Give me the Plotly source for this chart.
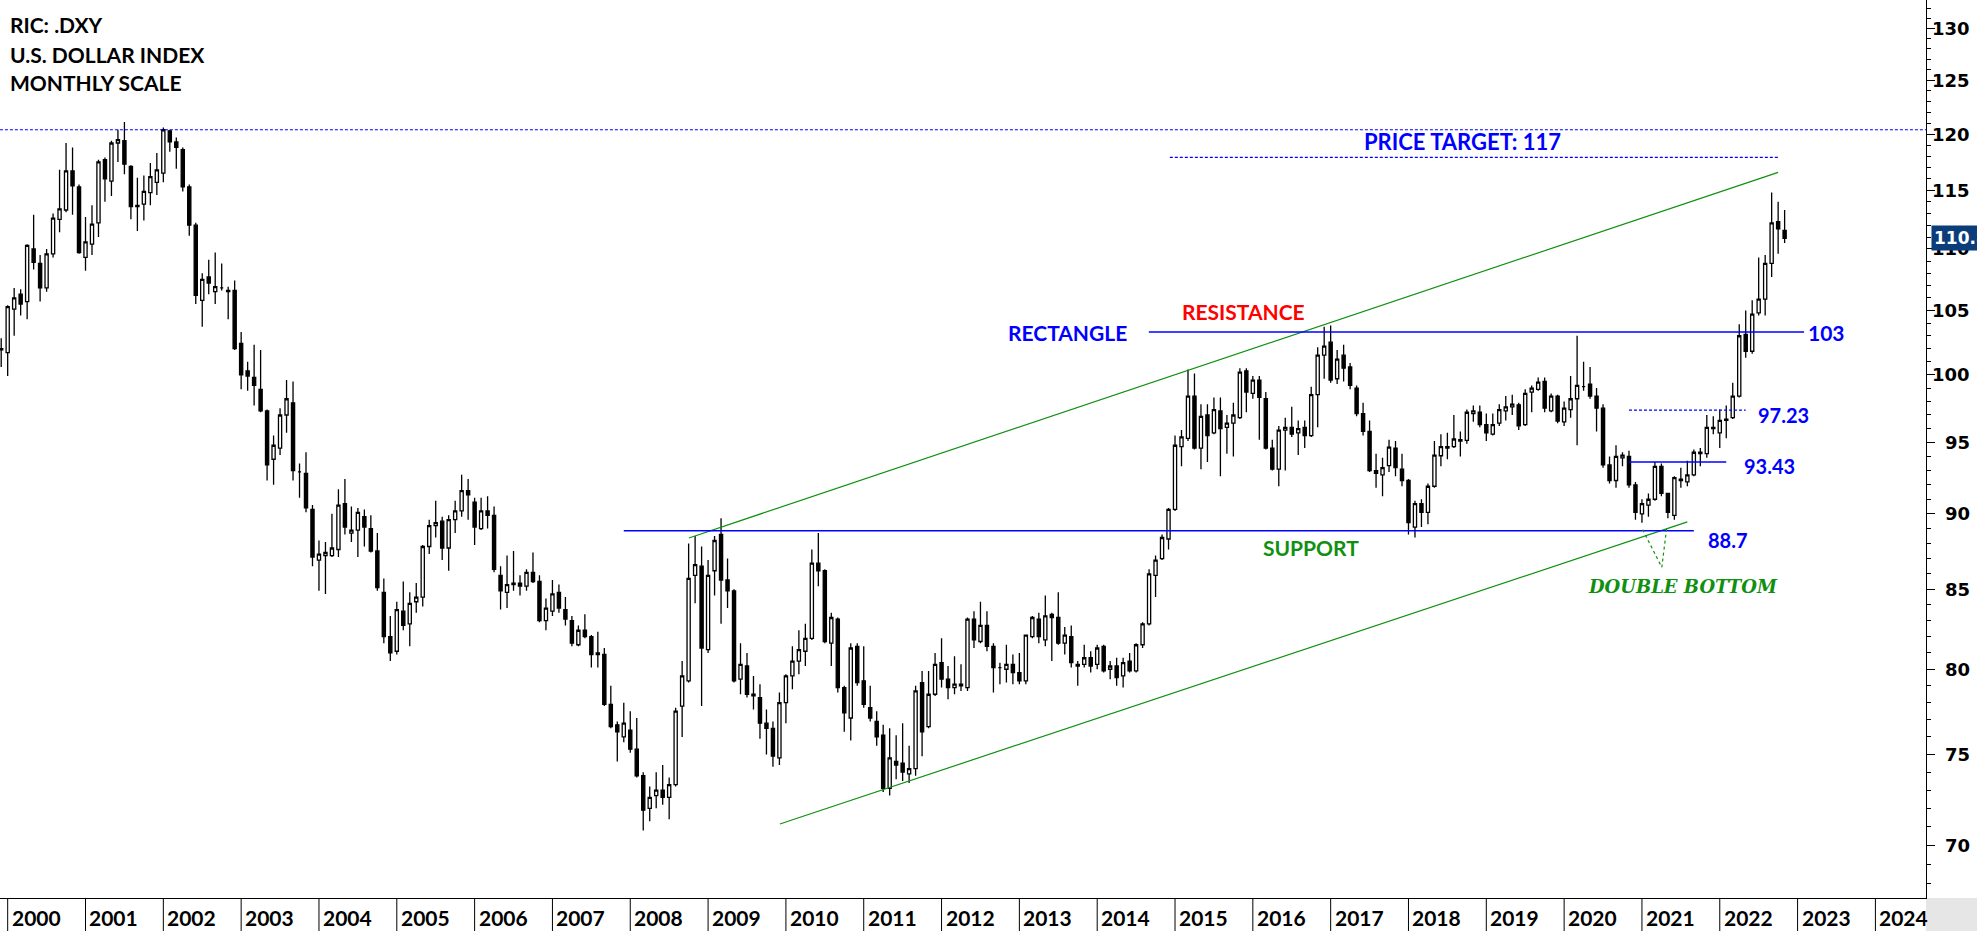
import math
import pandas as pd
import plotly.graph_objects as go

# ------------------------------------------------------------------
# DATA  (monthly candles, Dec 1999 .. Nov 2022)
# ------------------------------------------------------------------
open_ = [
    101.9,
    101.7, 105.1, 106.3, 105.7, 110.0, 108.8, 106.8, 109.6, 112.5, 113.3, 116.7, 115.3,   # 2000
    109.3, 110.4, 112.2, 117.7, 115.8, 119.2, 119.4, 117.1, 113.6, 113.8, 114.8, 115.7,   # 2001
    116.5, 120.3, 119.3, 118.6, 115.3, 112.0, 105.8, 107.7, 106.5, 106.8, 106.6, 106.6,   # 2002
    102.4, 100.3, 99.8, 98.9, 97.3, 93.8, 94.6, 97.0, 97.9, 92.9, 92.8, 90.3,             # 2003
    86.9, 87.2, 87.2, 87.6, 90.7, 88.7, 88.9, 89.8, 89.0, 87.5, 84.8, 82.0,               # 2004
    81.1, 83.6, 82.8, 84.2, 84.5, 87.8, 89.2, 89.5, 87.7, 89.6, 90.2, 91.6,               # 2005
    90.8, 89.0, 90.2, 89.9, 85.9, 84.8, 85.3, 85.4, 85.2, 86.1, 85.5, 83.0,               # 2006
    83.6, 84.8, 83.7, 83.0, 81.5, 82.4, 82.0, 80.9, 80.9, 77.9, 76.7, 76.0,               # 2007
    76.4, 75.3, 73.8, 72.0, 72.7, 73.0, 72.6, 73.3, 77.8, 79.3, 85.9, 86.5,               # 2008
    81.2, 86.2, 88.6, 85.6, 84.9, 79.4, 80.2, 78.5, 78.3, 76.8, 76.5, 74.8,               # 2009
    78.0, 79.6, 80.5, 81.1, 81.9, 86.7, 86.2, 81.6, 83.1, 78.9, 77.1, 81.4,               # 2010
    79.3, 77.7, 76.9, 76.1, 73.1, 74.6, 74.5, 73.9, 74.2, 79.2, 76.6, 78.5,               # 2011
    80.4, 79.4, 78.9, 79.1, 78.9, 83.1, 81.7, 82.7, 81.4, 80.1, 80.0, 80.3,               # 2012
    79.8, 79.3, 82.0, 83.1, 81.8, 83.4, 83.2, 81.6, 82.0, 80.3, 80.3, 80.7,               # 2013
    80.3, 81.4, 80.0, 80.2, 79.6, 80.5, 79.9, 81.5, 82.8, 85.9, 87.0, 88.3,               # 2014
    90.3, 94.7, 95.3, 98.4, 94.6, 97.0, 95.7, 97.3, 96.1, 96.4, 96.8, 100.3,              # 2015
    98.6, 99.6, 98.2, 94.6, 93.1, 95.9, 96.1, 95.7, 96.1, 95.5, 98.5, 101.5,              # 2016
    102.5, 99.7, 101.5, 100.6, 99.0, 97.1, 95.8, 93.0, 92.7, 93.35, 94.6, 93.1,           # 2017
    92.3, 89.1, 90.7, 90.1, 91.9, 94.05, 94.7, 94.7, 95.2, 95.15, 97.1, 97.2,             # 2018
    96.3, 95.6, 96.4, 97.3, 97.6, 97.75, 96.3, 98.7, 98.9, 99.5, 97.3, 98.4,              # 2019
    96.5, 97.4, 98.2, 99.1, 99.3, 98.4, 97.5, 93.4, 92.3, 93.9, 94.0, 92.0,               # 2020
    90.0, 90.6, 91.0, 93.3, 91.4, 89.9, 92.4, 92.2, 92.7, 94.3, 94.2, 96.1,               # 2021
    95.7, 96.6, 96.8, 98.4, 103.1, 101.8, 104.8, 105.9, 108.8, 112.3, 111.55,             # 2022
]
high = [
    102.8,
    105.4, 106.8, 106.7, 110.4, 112.9, 109.5, 110.0, 113.0, 116.8, 119.2, 118.8, 115.5,
    112.7, 113.7, 117.7, 117.9, 119.4, 120.4, 121.1, 117.2, 116.1, 116.3, 117.4, 118.3,
    120.6, 120.4, 119.7, 118.8, 115.5, 112.2, 108.0, 109.1, 109.7, 108.8, 106.9, 107.4,
    103.3, 101.0, 102.3, 101.9, 97.4, 95.5, 97.5, 99.6, 99.5, 93.5, 94.3, 90.6,
    88.2, 88.1, 90.0, 91.7, 92.4, 90.5, 90.4, 90.3, 89.9, 88.7, 85.7, 83.3,
    84.2, 85.5, 84.8, 85.4, 87.9, 89.6, 90.9, 89.8, 89.9, 90.9, 92.7, 92.4,
    91.1, 91.1, 91.2, 90.5, 86.5, 87.2, 87.5, 85.9, 86.3, 87.4, 85.9, 84.4,
    85.6, 85.3, 84.5, 83.3, 82.7, 83.4, 82.1, 82.3, 81.3, 79.0, 76.9, 78.0,
    77.5, 77.1, 74.0, 73.2, 74.0, 74.4, 73.7, 77.7, 80.5, 88.0, 88.5, 87.8,
    86.9, 88.5, 89.7, 87.0, 85.0, 81.6, 81.0, 79.6, 79.1, 77.6, 76.9, 78.6,
    79.7, 81.4, 82.4, 82.8, 87.6, 88.7, 86.3, 83.5, 83.2, 79.0, 81.6, 81.6,
    81.4, 79.0, 77.5, 76.7, 76.5, 76.1, 76.8, 75.5, 79.0, 79.9, 79.9, 81.0,
    81.9, 80.2, 80.8, 80.3, 83.2, 83.6, 84.2, 83.6, 81.6, 80.4, 81.5, 80.9,
    81.0, 82.1, 83.3, 83.5, 84.6, 83.5, 84.8, 82.6, 82.7, 80.5, 81.5, 81.1,
    81.5, 81.5, 80.5, 80.7, 80.7, 81.0, 81.6, 82.9, 86.3, 87.2, 88.6, 90.4,
    95.5, 95.9, 100.4, 100.1, 97.8, 97.8, 98.3, 98.3, 97.0, 97.9, 100.5, 100.5,
    99.9, 99.9, 98.7, 95.2, 96.2, 96.8, 97.6, 96.6, 96.6, 99.1, 102.1, 103.7,
    103.8, 101.9, 102.3, 100.9, 99.2, 97.9, 96.6, 94.2, 93.9, 95.2, 95.1, 94.2,
    92.4, 90.9, 91.0, 92.1, 95.1, 95.6, 95.7, 97.0, 95.8, 97.4, 97.7, 97.7,
    97.1, 97.1, 97.8, 98.4, 98.5, 97.9, 98.9, 99.2, 99.8, 99.8, 98.6, 98.5,
    98.0, 99.9, 103.0, 101.0, 100.6, 99.0, 97.8, 94.0, 94.8, 94.3, 94.4, 92.2,
    91.0, 91.4, 93.6, 93.5, 91.4, 92.6, 93.2, 93.7, 94.5, 94.6, 97.0, 96.9,
    97.4, 97.7, 99.4, 103.9, 105.0, 105.8, 109.3, 109.5, 114.8, 114.0, 113.3,
]
low = [
    100.6,
    99.9, 103.0, 104.6, 104.3, 108.3, 105.7, 106.5, 109.3, 111.4, 113.1, 112.9, 109.6,
    108.2, 109.5, 111.0, 114.0, 114.5, 117.5, 116.4, 112.5, 111.5, 112.4, 113.7, 114.6,
    115.7, 118.4, 116.9, 114.9, 111.1, 105.5, 103.7, 106.3, 105.5, 106.6, 104.3, 101.9,
    98.9, 98.8, 97.7, 97.2, 92.3, 92.0, 94.1, 95.7, 92.3, 91.1, 90.1, 86.5,
    84.9, 84.7, 87.1, 87.1, 88.6, 88.1, 87.1, 87.8, 87.4, 84.9, 81.6, 80.5,
    80.9, 82.4, 81.4, 83.5, 83.9, 87.3, 88.4, 86.9, 86.2, 88.7, 89.8, 89.6,
    87.9, 88.9, 89.0, 86.1, 83.7, 83.8, 84.9, 84.6, 84.9, 85.4, 82.9, 82.4,
    83.3, 83.5, 82.7, 81.4, 81.4, 81.9, 80.1, 80.1, 77.8, 76.5, 74.6, 75.7,
    75.1, 73.7, 70.8, 71.3, 72.0, 72.2, 71.4, 73.2, 76.0, 79.2, 84.1, 77.8,
    81.0, 84.6, 82.8, 83.8, 79.2, 78.5, 78.3, 77.6, 75.9, 75.0, 74.3, 74.4,
    76.8, 78.8, 79.7, 80.2, 81.8, 85.2, 81.6, 80.2, 78.6, 76.3, 75.8, 79.0,
    77.7, 76.9, 75.5, 72.9, 72.7, 73.6, 73.5, 73.4, 73.8, 74.9, 76.5, 78.4,
    78.9, 78.2, 78.5, 78.7, 78.7, 81.3, 81.6, 81.1, 78.6, 79.1, 79.2, 79.1,
    79.1, 79.1, 81.9, 81.6, 81.4, 80.5, 81.5, 80.9, 80.1, 79.0, 80.1, 79.8,
    80.0, 79.8, 79.4, 79.0, 78.9, 79.8, 79.8, 81.3, 82.7, 84.5, 86.9, 87.6,
    90.2, 93.3, 95.1, 94.5, 93.1, 93.6, 95.6, 92.6, 94.2, 94.0, 96.7, 97.2,
    98.2, 95.2, 94.5, 93.0, 91.9, 93.0, 95.4, 94.1, 94.6, 95.4, 96.1, 99.7,
    99.4, 99.3, 99.5, 98.9, 96.9, 95.5, 92.9, 91.8, 91.2, 92.9, 92.6, 91.9,
    88.6, 88.4, 89.1, 89.3, 91.8, 93.3, 93.8, 94.6, 94.0, 94.9, 96.5, 96.1,
    95.1, 95.5, 96.2, 96.6, 97.0, 95.9, 96.2, 97.2, 98.8, 97.2, 97.2, 96.4,
    96.2, 96.8, 94.8, 98.8, 98.2, 95.8, 93.2, 92.1, 91.8, 93.3, 91.8, 89.6,
    89.4, 89.8, 90.9, 91.2, 89.7, 89.6, 91.8, 91.9, 92.6, 93.3, 93.9, 95.6,
    94.6, 95.3, 96.7, 98.3, 101.3, 101.6, 104.6, 104.6, 107.7, 109.6, 110.5,
]
close = [
    102.0,
    105.3, 106.0, 105.5, 110.3, 108.9, 106.8, 109.6, 112.6, 113.4, 116.7, 115.4, 109.7,
    110.6, 112.1, 117.5, 116.0, 119.2, 119.5, 117.3, 113.6, 113.7, 114.9, 116.2, 116.8,
    120.4, 119.3, 118.8, 115.3, 112.0, 106.2, 107.5, 107.2, 106.9, 106.8, 106.5, 102.0,
    100.0, 99.9, 99.2, 97.3, 93.4, 94.8, 97.0, 98.2, 93.0, 92.9, 90.4, 87.1,
    87.3, 87.4, 87.7, 90.6, 89.1, 88.9, 90.1, 89.1, 87.5, 85.1, 82.0, 81.0,
    83.7, 82.7, 84.1, 84.5, 87.8, 89.2, 89.4, 87.7, 89.6, 90.2, 91.6, 91.3,
    89.1, 90.2, 89.9, 86.3, 84.9, 85.3, 85.4, 85.2, 86.1, 85.5, 83.0, 83.8,
    84.7, 83.8, 83.1, 81.6, 82.4, 82.0, 80.9, 81.0, 77.9, 76.6, 76.3, 76.8,
    75.3, 73.8, 71.9, 72.6, 73.0, 72.6, 73.3, 77.5, 79.6, 85.7, 86.6, 81.3,
    85.9, 88.2, 85.6, 84.9, 79.3, 80.3, 78.5, 78.4, 76.8, 76.5, 74.9, 78.0,
    79.6, 80.5, 81.2, 81.9, 86.7, 86.2, 81.7, 83.2, 78.9, 77.4, 81.3, 79.2,
    77.9, 77.1, 76.0, 73.1, 74.8, 74.4, 74.0, 74.2, 78.7, 76.3, 78.5, 80.3,
    79.4, 78.9, 79.1, 79.0, 83.1, 81.8, 82.7, 81.4, 80.1, 80.1, 80.3, 79.8,
    79.3, 82.1, 83.2, 82.0, 83.3, 83.2, 81.6, 82.1, 80.4, 80.2, 80.7, 80.2,
    81.3, 79.9, 80.2, 79.5, 80.4, 79.9, 81.5, 82.8, 86.0, 86.9, 88.4, 90.3,
    94.8, 95.4, 98.4, 94.6, 96.9, 95.5, 97.4, 96.0, 96.4, 97.0, 100.2, 98.7,
    99.6, 98.3, 94.6, 93.1, 95.9, 96.1, 95.6, 96.0, 95.5, 98.5, 101.5, 102.2,
    99.6, 101.2, 100.5, 99.2, 97.1, 95.8, 93.0, 92.8, 93.2, 94.67, 93.2, 92.3,
    89.4, 90.7, 90.1, 91.9, 94.1, 94.7, 94.6, 95.25, 95.1, 97.2, 97.3, 96.3,
    95.7, 96.3, 97.4, 97.6, 97.8, 96.2, 98.6, 99.0, 99.45, 97.5, 98.4, 96.55,
    97.5, 98.2, 99.2, 99.1, 98.4, 97.5, 93.4, 92.3, 94.0, 94.1, 92.0, 90.1,
    90.7, 91.0, 93.3, 91.4, 90.1, 92.5, 92.3, 92.7, 94.3, 94.2, 96.1, 96.0,
    96.6, 96.7, 98.4, 103.0, 101.8, 104.7, 105.9, 108.8, 112.2, 111.7, 110.9,
]

months = pd.period_range("1999-12", periods=len(close), freq="M").strftime("%b %Y").tolist()
bar_index = list(range(len(close)))

year_labels = [str(y) for y in range(2000, 2025)]
year_index = [1 + 12 * i for i in range(len(year_labels))]   # January candle of each year

y_major = [70, 75, 80, 85, 90, 95, 100, 105, 110, 115, 120, 125, 130]
y_minor = [v for v in range(68, 133) if v % 5 != 0]
last_price_label = "110.8"
last_price = 110.9

# drawn study lines: (month index, price)
upper_channel_x, upper_channel_y = [106.05, 274.0], [88.37, 116.58]
lower_channel_x, lower_channel_y = [120.07, 260.0], [71.15, 89.45]
resistance_x, resistance_y = [176.96, 278.0], [103.3, 103.3]
support_x, support_y = [96.0, 261.0], [88.85, 88.85]
level_9723_x, level_9723_y = [251.0, 269.0], [97.36, 97.36]
level_9343_x, level_9343_y = [251.0, 266.0], [93.6, 93.6]
target_x, target_y = [180.2, 274.0], [117.9, 117.9]
top_x, top_y = [-0.2, 296.8], [120.4, 120.4]
dbl_bottom_x, dbl_bottom_y = [253.1, 256.06, 256.8], [88.93, 86.43, 88.98]

# ------------------------------------------------------------------
W, H = 1977, 931
PW, PH = 1926, 898          # plot area in pixels (left/top at 0)


def px(x):
    return x / PW


def py(y):
    return 1 - y / PH


LABEL_FONT = "Lato, Liberation Sans, Arial, sans-serif"
AXIS_FONT = "DejaVu Sans, Verdana, sans-serif"
BLUE = "#0000ff"
GREEN = "#109010"

fig = go.Figure()
fig.add_trace(go.Candlestick(
    x=bar_index, open=open_, high=high, low=low, close=close,
    text=months, hoverinfo="text+y",
    increasing=dict(line=dict(color="black", width=1.3), fillcolor="white"),
    decreasing=dict(line=dict(color="black", width=1.3), fillcolor="black"),
    whiskerwidth=0, showlegend=False,
))


def add_line(xs, ys, color, width=1.2, dash=None):
    fig.add_trace(go.Scatter(x=xs, y=ys, mode="lines", hoverinfo="skip",
                             line=dict(color=color, width=width, dash=dash),
                             showlegend=False))


add_line(top_x, top_y, BLUE, 1.2, "3px,2px")
add_line(target_x, target_y, BLUE, 1.2, "3px,2px")
add_line(upper_channel_x, upper_channel_y, GREEN, 1.2)
add_line(lower_channel_x, lower_channel_y, GREEN, 1.2)
add_line(resistance_x, resistance_y, BLUE, 1.5)
add_line(support_x, support_y, BLUE, 1.5)
add_line(level_9723_x, level_9723_y, BLUE, 1.2, "3px,2px")
add_line(level_9343_x, level_9343_y, BLUE, 1.5)
add_line(dbl_bottom_x, dbl_bottom_y, GREEN, 1.2, "3px,3px")

annotations = []


def note(text, x, y, color, size=21, xanchor="center", family=LABEL_FONT, style="normal",
         xref="paper", yref="paper", weight="bold", **kw):
    annotations.append(dict(text=text, x=x, y=y, xref=xref, yref=yref, xanchor=xanchor,
                            yanchor="middle", showarrow=False,
                            font=dict(family=family, size=size, color=color,
                                      weight=weight, style=style), **kw))


# header
note("RIC: .DXY", px(8), py(24.5), "black", 21, "left")
note("U.S. DOLLAR INDEX", px(8), py(54.5), "black", 21, "left")
note("MONTHLY SCALE", px(8), py(82.8), "black", 21, "left")

# study labels
note("PRICE TARGET: 117", px(1462), py(142), BLUE, 22)
note("RESISTANCE", px(1243), py(311), "#ff0000", 21)
note("RECTANGLE", px(1067), py(332.5), BLUE, 21)
note("SUPPORT", px(1311), py(547.5), GREEN, 21)
note("103", px(1806), py(332.5), BLUE, 21, "left")
note("97.23", px(1756), py(414.5), BLUE, 20, "left")
note("93.43", px(1742), py(466), BLUE, 20, "left")
note("88.7", px(1706), py(540), BLUE, 20, "left")
note("DOUBLE BOTTOM", px(1683), py(586.5), GREEN, 18, family="DejaVu Serif, serif",
     style="italic")

# year labels along the bottom strip
for lab, k in zip(year_labels, year_index):
    note(lab, k + 0.3, py(917), "black", 21, "left", xref="x")

# right axis labels (right aligned)
for v in y_major:
    note(str(v), px(1972), math.log10(v), "black", 18, "right",
         family=AXIS_FONT, yref="y")

# last price box
note(last_price_label, px(1931), math.log10(last_price), "white", 17, "left",
     family=AXIS_FONT, yref="y", bgcolor="#0b3d7a", borderpad=2)

shapes = []
for k in year_index:
    shapes.append(dict(type="line", xref="x", yref="paper", x0=k, x1=k,
                       y0=0, y1=py(H), line=dict(color="black", width=1)))
shapes.append(dict(type="rect", xref="paper", yref="paper", x0=1.0, x1=px(W),
                   y0=0, y1=py(H), fillcolor="#e6e6e6", line=dict(width=0), layer="below"))

fig.update_layout(
    width=W, height=H,
    margin=dict(l=0, r=W - PW, t=0, b=H - PH, pad=0),
    paper_bgcolor="white", plot_bgcolor="white",
    showlegend=False,
    annotations=annotations, shapes=shapes,
    xaxis=dict(range=[-0.185, 296.8], showgrid=False, zeroline=False,
               showticklabels=False, ticks="", showline=True, linecolor="black",
               linewidth=1, rangeslider=dict(visible=False), fixedrange=True),
    yaxis=dict(type="log", side="right",
               range=[math.log10(67.27), math.log10(132.84)],
               tickmode="array", tickvals=y_major, showticklabels=False,
               ticks="outside", ticklen=8, tickwidth=1, tickcolor="black",
               minor=dict(tickmode="array", tickvals=y_minor, ticks="outside",
                          ticklen=4, tickwidth=1, tickcolor="black"),
               showline=True, linecolor="black", linewidth=1.3,
               showgrid=False, zeroline=False, fixedrange=True),
)

fig.write_html("out.html")
